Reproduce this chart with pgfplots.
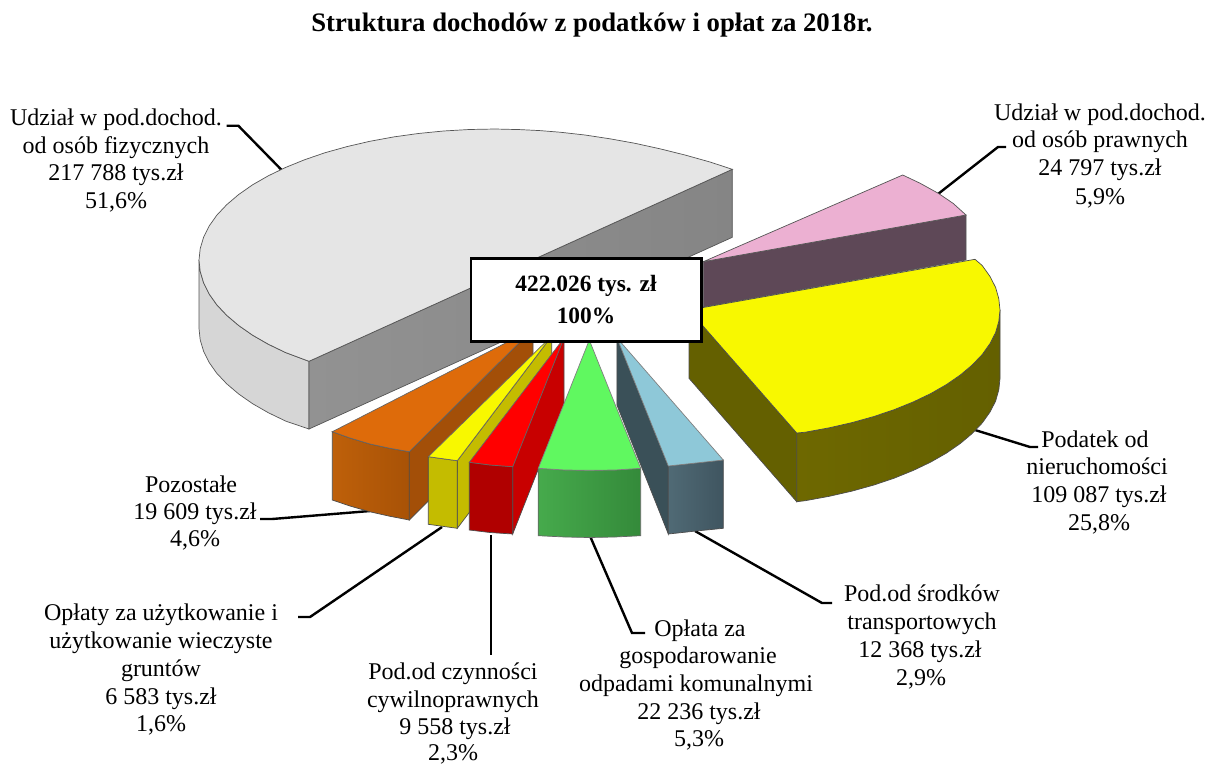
\documentclass[border=0pt]{standalone}
\usepackage{pgfplots}
\usepackage{fontspec}
\setmainfont{Liberation Serif}
\pgfplotsset{compat=1.18}
\definecolor{ogl}{HTML}{555555}
\newcommand\lb[3]{\node[anchor=base,inner sep=0pt,font=\fontsize{24}{27}\selectfont] at (axis cs:#1,#2) {#3};}
\begin{document}
\begin{tikzpicture}[x=1pt,y=1pt]
\useasboundingbox (0,0) rectangle (1215,764);
\begin{axis}[at={(0,0)},anchor=south west,scale only axis,width=1215pt,height=764pt,
  xmin=0,xmax=1215,ymin=0,ymax=764,y dir=reverse,hide axis,clip=false]
% leaders
\addplot[black,line width=2.4pt] coordinates {(226.7,125.7)(238.3,125.7)(283.3,171.7)};
\addplot[black,line width=2.4pt] coordinates {(938,194)(998,147)(1006,147)};
\addplot[black,line width=2.4pt] coordinates {(975,430)(1030,447)(1038,447)};
\addplot[black,line width=2.4pt] coordinates {(695,531)(822,603)(832,603)};
\addplot[black,line width=2.4pt] coordinates {(590,536)(632,633)(645,633)};
\addplot[black,line width=2.4pt] coordinates {(491,535)(491,655)};
\addplot[black,line width=2.4pt] coordinates {(442,527)(310,617)(298,617)};
\addplot[black,line width=2.4pt] coordinates {(370,511)(272,519)(260,519)};
% grey slice
\addplot[draw=ogl,line width=0.7pt,fill={rgb,255:red,214;green,214;blue,214}] coordinates {(199,260)(199,328.5)(200.2,339.9)(203.6,351.3)(209.1,362.4)(216.8,373.3)(226.8,383.9)(238.7,394)(252.6,403.7)(268.3,412.7)(285.7,421.1)(309,429)(309,361.3)(285.7,352.6)(268.3,344.2)(252.6,335.2)(238.7,325.5)(226.8,315.4)(216.8,304.8)(209.1,293.9)(203.6,282.8)(200.2,271.4)} --cycle;
\addplot[draw=ogl,line width=0.7pt,left color={rgb,255:red,146;green,146;blue,146},right color={rgb,255:red,133;green,133;blue,133}] coordinates {(309,361.3)(732.3,169.3)(732.3,237.3)(309,429)} --cycle;
\addplot[draw=ogl,line width=0.7pt,fill={rgb,255:red,229;green,229;blue,229}] coordinates {(309,361.3)(285.7,352.6)(268.3,344.2)(252.6,335.2)(238.7,325.5)(226.8,315.4)(216.8,304.8)(209.1,293.9)(203.6,282.8)(200.2,271.4)(199,260)(200.2,248.6)(203.6,237.2)(209.1,226.1)(216.8,215.2)(226.8,204.6)(238.7,194.5)(252.6,184.8)(268.3,175.8)(285.7,167.4)(304.7,159.7)(325.1,152.7)(347,146.6)(369.8,141.3)(393.8,136.9)(418.3,133.5)(443.5,131)(469.2,129.5)(495,129)(520,129.6)(540,130.6)(560,132.2)(585,135)(610,138.8)(635,143.3)(660,148.8)(685,155)(710,162)(732.3,169.3)} --cycle;
% purple slice
\addplot[draw=ogl,line width=0.7pt,fill={rgb,255:red,94;green,72;blue,87}] coordinates {(703.3,261.7)(966,215)(966,260)(703.3,307)} --cycle;
\addplot[draw=ogl,line width=0.7pt,fill={rgb,255:red,236;green,176;blue,210}] coordinates {(703.3,261.7)(902.7,175)(920,183.2)(938.3,193.3)(953.3,203.5)(966,215)} --cycle;
% big yellow slice
\addplot[draw=black!70,line width=0.7pt,fill={rgb,255:red,100;green,96;blue,0}] coordinates {(689,310)(689,378.3)(796.7,501.7)(796.7,433)} --cycle;
\addplot[draw=black!70,line width=0.7pt,left color={rgb,255:red,110;green,104;blue,0},right color={rgb,255:red,100;green,96;blue,0}] coordinates {(796.7,433)(805.2,432.2)(829.2,427.8)(852,422.6)(873.9,416.5)(894.3,409.6)(913.3,401.9)(930.7,393.6)(946.4,384.6)(960.3,375)(972.2,365)(982.2,354.5)(989.9,343.7)(995.6,332.6)(998.8,321.3)(1000,310)(1000,378.5)(998.8,389.8)(995.6,401.1)(989.9,412.2)(982.2,423)(972.2,433.5)(960.3,443.5)(946.4,453.1)(930.7,462.1)(913.3,470.4)(894.3,478.1)(873.9,485)(852,491.1)(829.2,496.3)(805.2,500.7)(796.7,501.7)} --cycle;
\addplot[draw=black!70,line width=0.7pt,fill={rgb,255:red,248;green,248;blue,0}] coordinates {(689,310)(975,259.3)(982.2,265.5)(989.9,276.3)(995.6,287.4)(998.8,298.7)(1000,310)(998.8,321.3)(995.6,332.6)(989.9,343.7)(982.2,354.5)(972.2,365)(960.3,375)(946.4,384.6)(930.7,393.6)(913.3,401.9)(894.3,409.6)(873.9,416.5)(852,422.6)(829.2,427.8)(805.2,432.2)(796.7,433)} --cycle;
% orange
\addplot[draw=black!70,line width=0.7pt,fill={rgb,255:red,163;green,79;blue,8}] coordinates {(409.3,451.7)(533,329)(533,397)(409.3,520)} --cycle;
\addplot[draw=black!70,line width=0.7pt,left color={rgb,255:red,190;green,96;blue,10},right color={rgb,255:red,168;green,82;blue,6}] coordinates {(332.3,431.7)(350,438)(370,444)(390,448.3)(409.3,451.7)(409.3,520)(390,516.3)(370,511.8)(350,506)(332.3,500)} --cycle;
\addplot[draw=black!60,line width=0.7pt,fill={rgb,255:red,222;green,107;blue,10}] coordinates {(332.3,431.7)(533,329)(409.3,451.7)(390,448.3)(370,444)(350,438)} --cycle;
% small yellow
\addplot[draw=black!70,line width=0.7pt,fill={rgb,255:red,196;green,188;blue,0}] coordinates {(457.3,460.7)(551.7,336)(551.7,404)(457.3,528.3)} --cycle;
\addplot[draw=black!70,line width=0.7pt,fill={rgb,255:red,196;green,188;blue,0}] coordinates {(428.3,456.7)(457.3,460.7)(457.3,528.3)(428.3,524.3)} --cycle;
\addplot[draw=black!60,line width=0.7pt,fill={rgb,255:red,248;green,248;blue,0}] coordinates {(428.3,456.7)(551.7,336)(457.3,460.7)} --cycle;
% red
\addplot[draw=black!70,line width=0.7pt,fill={rgb,255:red,200;green,0;blue,0}] coordinates {(512.7,466.7)(564,338)(564,404)(512.7,534)} --cycle;
\addplot[draw=black!70,line width=0.7pt,fill={rgb,255:red,176;green,0;blue,0}] coordinates {(469.3,462.3)(490,465)(512.7,466.7)(512.7,534)(490,532.5)(469.3,530)} --cycle;
\addplot[draw=black!60,line width=0.7pt,fill={rgb,255:red,255;green,0;blue,0}] coordinates {(469.3,462.3)(564,338)(512.7,466.7)(490,465)} --cycle;
% teal
\addplot[draw=black!70,line width=0.7pt,fill={rgb,255:red,58;green,80;blue,88}] coordinates {(616.9,337.8)(668.3,466)(668.3,534)(616.9,405)} --cycle;
\addplot[draw=black!70,line width=0.7pt,left color={rgb,255:red,80;green,106;blue,117},right color={rgb,255:red,63;green,85;blue,96}] coordinates {(668.3,466)(696,463)(723.3,460)(723.3,528.3)(696,531)(668.3,534)} --cycle;
\addplot[draw=black!50,line width=0.7pt,fill={rgb,255:red,142;green,200;blue,216}] coordinates {(616.9,337.8)(723.3,460)(696,463)(668.3,466)} --cycle;
% green
\addplot[draw=black!60,line width=0.7pt,left color={rgb,255:red,70;green,170;blue,76},right color={rgb,255:red,52;green,138;blue,58}] coordinates {(538.3,468.3)(565,470)(589.3,470.3)(615,470)(640.7,468.3)(640.7,535.7)(615,537)(589.3,537.5)(565,537)(538.3,535.7)} --cycle;
\addplot[draw=black!50,line width=0.7pt,fill={rgb,255:red,96;green,248;blue,96}] coordinates {(589.3,340)(640.7,468.3)(615,470)(589.3,470.3)(565,470)(538.3,468.3)} --cycle;
% centre box
\addplot[draw=black,line width=2.2pt,fill=white] coordinates {(471,258.5)(701.5,258.5)(701.5,341.5)(471,341.5)} --cycle;
\node[anchor=base,font=\bfseries\fontsize{23.4}{27}\selectfont] at (axis cs:586,291) {422.026 tys. zł};
\node[anchor=base,font=\bfseries\fontsize{23.4}{27}\selectfont] at (axis cs:586,323) {100\%};
% title
\node[anchor=base,font=\bfseries\fontsize{26.7}{30}\selectfont] at (axis cs:592,31) {Struktura dochodów z podatków i opłat za 2018r.};
% labels
\lb{116}{125}{Udział w pod.dochod.}
\lb{116}{153}{od osób fizycznych}
\lb{116}{180}{217 788 tys.zł}
\lb{116}{208}{51,6\%}
\lb{1100}{120}{Udział w pod.dochod.}
\lb{1100}{147}{od osób prawnych}
\lb{1100}{175}{24 797 tys.zł}
\lb{1100}{204}{5,9\%}
\lb{1095}{447}{Podatek od}
\lb{1097}{474}{nieruchomości}
\lb{1099}{502}{109 087 tys.zł}
\lb{1099}{530}{25,8\%}
\lb{922}{601}{Pod.od środków}
\lb{922}{629}{transportowych}
\lb{920}{657}{12 368 tys.zł}
\lb{921}{685}{2,9\%}
\lb{700}{636}{Opłata za}
\lb{698}{663}{gospodarowanie}
\lb{696}{691}{odpadami komunalnymi}
\lb{699}{719}{22 236 tys.zł}
\lb{699}{746}{5,3\%}
\lb{453}{679}{Pod.od czynności}
\lb{453}{707}{cywilnoprawnych}
\lb{455}{734}{9 558 tys.zł}
\lb{453}{760}{2,3\%}
\lb{161}{620}{Opłaty za użytkowanie i}
\lb{161}{648}{użytkowanie wieczyste}
\lb{161}{676}{gruntów}
\lb{161}{704}{6 583 tys.zł}
\lb{161}{731}{1,6\%}
\lb{191}{492}{Pozostałe}
\lb{195}{519}{19 609 tys.zł}
\lb{195}{546}{4,6\%}
\end{axis}
\end{tikzpicture}
\end{document}
